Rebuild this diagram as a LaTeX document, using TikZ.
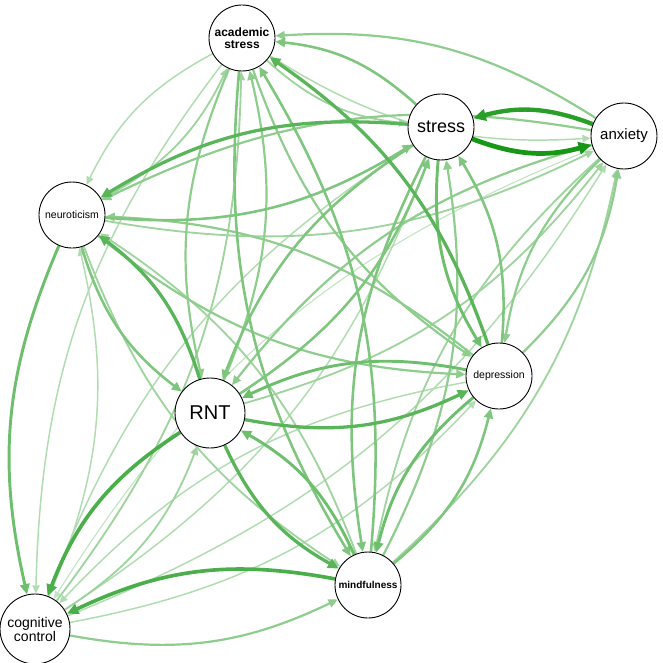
\documentclass[tikz,border=0pt]{standalone}
\usepackage{fontspec}
\setmainfont{Liberation Sans}
\usetikzlibrary{arrows.meta}

\definecolor{edgegreen}{RGB}{20,150,20}
\pgfdeclarelayer{edges}
\pgfsetlayers{edges,main}

\begin{document}
\begin{tikzpicture}[
  x=1pt, y=-1pt,
  var/.style={draw, circle, fill=white, minimum size=66pt, inner sep=0pt,
              align=center, line width=0.9pt},
  tip/.style={-{Triangle[length=6pt 1.5, width=5pt 1.5]}}]

  \useasboundingbox (0,0) rectangle (662,663);

  % variables
  \node[var, font=\fontsize{12}{12.5}\selectfont\bfseries] (acad) at (242,38)
    {academic\\stress};
  \node[var, font=\fontsize{18}{18}\selectfont] (stress) at (441,127) {stress};
  \node[var, font=\fontsize{15}{15}\selectfont] (anx) at (624,136) {anxiety};
  \node[var, font=\fontsize{10.5}{11}\selectfont] (neuro) at (72,215) {neuroticism};
  \node[var, font=\fontsize{10.5}{11}\selectfont] (dep) at (499,376) {depression};
  \node[var, minimum size=70pt, font=\fontsize{20}{20}\selectfont] (rnt) at (210,413) {RNT};
  \node[var, font=\fontsize{10}{11}\selectfont\bfseries] (mind) at (368,585) {mindfulness};
  \node[var, minimum size=70pt, font=\fontsize{14}{14}\selectfont] (cog) at (35,629)
    {cognitive\\control};

  % edges, weakest first
  \begin{pgfonlayer}{edges}
  \foreach \s/\t/\w in {
      anx/cog/1,
      acad/anx/1.5, acad/neuro/1.5, acad/cog/1.5, cog/anx/1.5, stress/cog/1.5,
      cog/stress/1.5, cog/dep/1.5, dep/cog/1.5, cog/neuro/1.5,
      acad/stress/2, neuro/acad/2, cog/acad/2, neuro/anx/2, rnt/anx/2,
      anx/mind/2, mind/anx/2, neuro/mind/2, mind/neuro/2, cog/rnt/2,
      mind/stress/2.5, anx/acad/2.5, rnt/acad/2.5, acad/rnt/2.5, acad/dep/2.5,
      anx/neuro/2.5, anx/rnt/2.5, anx/dep/2.5, dep/anx/2.5, neuro/dep/2.5,
      dep/neuro/2.5, cog/mind/2.5,
      neuro/stress/3, dep/stress/3, mind/dep/3, stress/mind/3, acad/mind/3,
      mind/acad/3, stress/acad/3, stress/rnt/3, rnt/stress/3, neuro/rnt/3,
      mind/rnt/3.5, dep/rnt/3.5, neuro/cog/3.5, stress/dep/3.5, dep/mind/3.5,
      stress/neuro/4, dep/acad/4, rnt/neuro/4, rnt/mind/4, rnt/dep/4,
      rnt/cog/4.5, mind/cog/4.5,
      anx/stress/5.5,
      stress/anx/6}{
    \pgfmathtruncatemacro\pct{min(100,12+14.5*\w)}
    \pgfmathsetmacro\lw{0.4+0.72*\w}
    \draw[tip, line width=\lw pt, draw=edgegreen!\pct!white]
      (\s) to[bend right=18] (\t);
  }
  \end{pgfonlayer}
\end{tikzpicture}
\end{document}
